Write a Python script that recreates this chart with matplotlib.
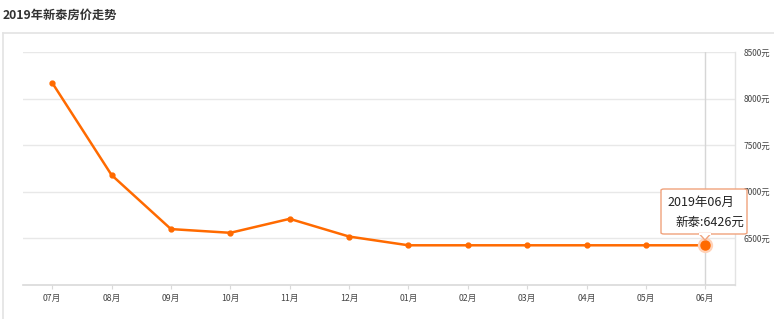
import matplotlib
matplotlib.use("Agg")
import matplotlib.pyplot as plt
from matplotlib.patches import FancyBboxPatch, Polygon
from matplotlib.lines import Line2D

plt.rcParams['font.family'] = ['Noto Sans CJK SC', 'DejaVu Sans']

months = ["07月", "08月", "09月", "10月", "11月", "12月", "01月", "02月", "03月", "04月", "05月", "06月"]
prices = [8170, 7180, 6600, 6560, 6710, 6520, 6426, 6426, 6426, 6426, 6426, 6426]
yticks = [6500, 7000, 7500, 8000, 8500]
title = "2019年新泰房价走势"
tip_title = "2019年06月"
tip_text = "新泰:6426元"

W, H = 774, 319
fig = plt.figure(figsize=(W / 100, H / 100), dpi=100)
fig.patch.set_facecolor("white")

# panel border
fig.add_artist(Line2D([3 / W, 1], [1 - 33 / H, 1 - 33 / H], color="#e3e3e3", lw=1.2))
fig.add_artist(Line2D([3 / W, 3 / W], [0, 1 - 33 / H], color="#e3e3e3", lw=1.2))
fig.text(3 / W, 1 - 15 / H, title, fontsize=8.8, fontweight="bold", color="#333333",
         va="center", ha="left")

ax = fig.add_axes([22.5 / W, 34 / H, (735 - 22.5) / W, (285 - 52) / H])
x = list(range(len(months)))
ax.set_xlim(-0.5, len(months) - 0.5)
ax.set_ylim(6000, 8500)

for s in ["top", "left"]:
    ax.spines[s].set_visible(False)
ax.spines["bottom"].set_color("#d9d9d9")
ax.spines["bottom"].set_linewidth(1.2)
ax.spines["right"].set_color("#e3e3e3")
ax.spines["right"].set_linewidth(1.0)

ax.yaxis.tick_right()
ax.set_yticks(yticks)
ax.set_yticklabels([f"{v}元" for v in yticks], fontsize=6, color="#444444")
ax.tick_params(axis="y", length=0, pad=6)
ax.set_xticks(x)
ax.set_xticklabels(months, fontsize=6.3, color="#444444")
ax.tick_params(axis="x", length=3, color="#d9d9d9", pad=3.5)
ax.grid(axis="y", color="#e8e8e8", lw=1.0)
ax.set_axisbelow(True)

# axis pointer
ax.axvline(x[-1], color="#d6d6d6", lw=1.0, zorder=1)

ax.plot(x, prices, color="#ff6a00", lw=1.8, marker="o", markersize=3.5, zorder=3)
ax.plot([x[-1]], [prices[-1]], marker="o", markersize=11, color="#ffd2b8", zorder=4,
        markeredgewidth=0)
ax.plot([x[-1]], [prices[-1]], marker="o", markersize=6.5, color="#ff6a00", zorder=5)

# tooltip in pixel coords
def px(xp, yp):
    return (xp / W, 1 - yp / H)

bx0, bx1, by0, by1 = 661, 747, 189, 234
box = FancyBboxPatch(px(bx0, by1), (bx1 - bx0) / W, (by1 - by0) / H,
                     boxstyle="round,pad=0,rounding_size=0.004",
                     transform=fig.transFigure, facecolor="white",
                     edgecolor="#f0a27c", lw=1.0, zorder=10)
fig.add_artist(box)
tri = Polygon([px(699, by1 - 0.5), px(711, by1 - 0.5), px(705, 240)], closed=True,
              transform=fig.transFigure, facecolor="white", edgecolor="#f0a27c",
              lw=1.0, zorder=11)
fig.add_artist(tri)
fig.add_artist(Line2D([699.8 / W, 710.2 / W], [1 - by1 / H, 1 - by1 / H],
                      color="white", lw=1.5, zorder=12))
fig.text(667 / W, 1 - 202 / H, tip_title, fontsize=9, color="#222222",
         va="center", ha="left", zorder=13)
fig.text(744 / W, 1 - 222 / H, tip_text, fontsize=9, color="#222222",
         va="center", ha="right", zorder=13)

fig.savefig("out.png", dpi=100, facecolor="white")
